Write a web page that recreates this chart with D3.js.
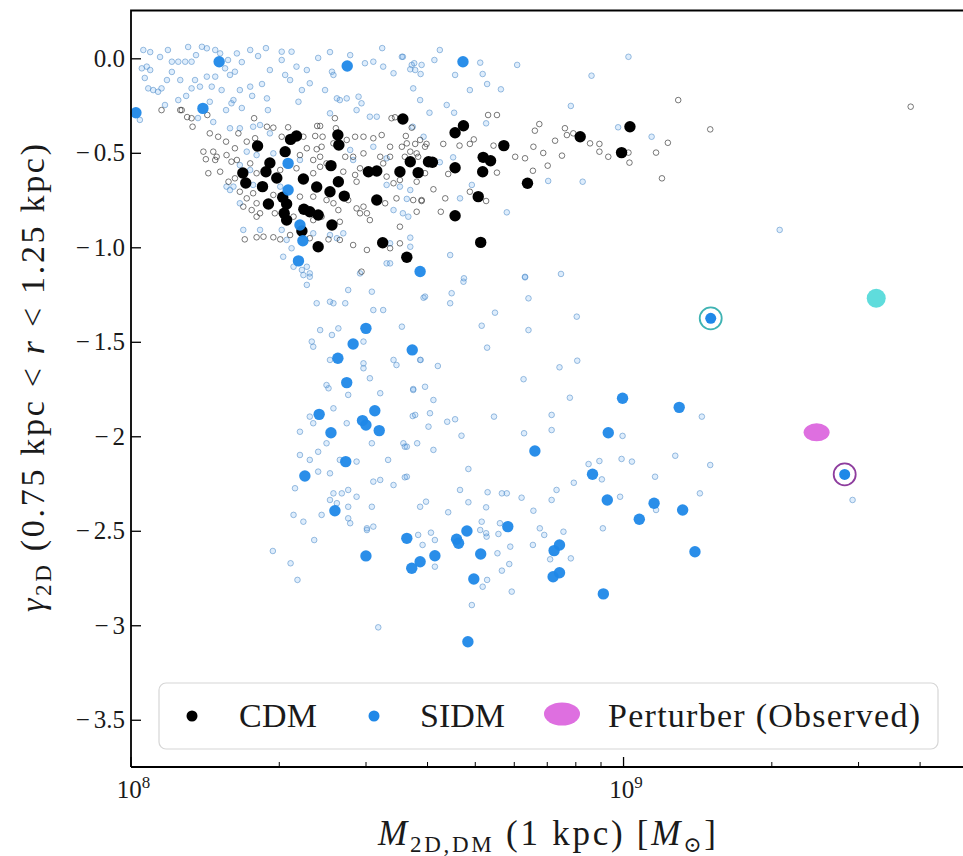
<!DOCTYPE html>
<html><head><meta charset="utf-8">
<script src="https://cdn.jsdelivr.net/npm/d3@7"></script>
<style>
body{margin:0;background:#fff}
svg{display:block}
text{font-family:"Liberation Serif","DejaVu Serif",serif;fill:#1a1a1a}
</style>
</head><body>
<svg id="chart" width="963" height="856"></svg>
<script>
// ---------- DATA: [log10 M_2D,DM (1 kpc) / Msun, gamma_2D] ----------
const cdmHighlighted = [[8.553,-0.321],[8.258,-0.464],[8.337,-0.411],[8.325,-0.429],[8.421,-0.406],[8.423,-0.459],[8.314,-0.494],[8.283,-0.554],[8.275,-0.600],[8.297,-0.633],[8.228,-0.607],[8.234,-0.660],[8.268,-0.679],[8.351,-0.639],[8.378,-0.681],[8.405,-0.706],[8.407,-0.568],[8.434,-0.729],[8.280,-0.771],[8.352,-0.799],[8.364,-0.812],[8.381,-0.829],[8.317,-0.856],[8.348,-0.914],[8.409,-0.882],[8.381,-0.997],[8.512,-0.976],[8.561,-1.053],[8.483,-0.600],[8.500,-0.596],[8.547,-0.600],[8.568,-0.547],[8.584,-0.605],[8.605,-0.547],[8.422,-0.653],[8.500,-0.750],[8.312,-0.820],[8.309,-0.735],[8.317,-0.771],[8.676,-0.357],[8.659,-0.394],[8.758,-0.462],[8.913,-0.415],[9.014,-0.362],[8.997,-0.499],[8.613,-0.550],[8.659,-0.579],[8.716,-0.524],[8.731,-0.542],[8.715,-0.600],[8.806,-0.661],[8.706,-0.732],[8.659,-0.833],[8.711,-0.974]];

const sidmHighlighted = [[8.180,-0.018],[8.011,-0.288],[8.147,-0.265],[8.440,-0.041],[8.675,-0.018],[8.320,-0.556],[8.320,-0.697],[8.344,-0.882],[8.350,-0.965],[8.341,-1.072],[8.588,-1.128],[8.478,-1.429],[8.452,-1.512],[8.421,-1.587],[8.439,-1.716],[8.572,-1.543],[8.383,-1.884],[8.496,-1.865],[8.471,-1.917],[8.478,-1.940],[8.505,-1.970],[8.407,-1.981],[8.437,-2.134],[8.354,-2.210],[8.415,-2.394],[8.561,-2.540],[8.999,-1.799],[9.114,-1.847],[8.970,-1.981],[8.821,-2.078],[8.938,-2.201],[8.968,-2.337],[9.063,-2.354],[9.121,-2.390],[9.033,-2.439],[8.766,-2.478],[8.683,-2.501],[8.662,-2.545],[8.571,-2.698],[8.588,-2.664],[8.618,-2.632],[8.666,-2.566],[8.711,-2.623],[8.697,-2.755],[8.860,-2.605],[8.871,-2.575],[8.858,-2.743],[8.871,-2.722],[8.960,-2.834],[9.146,-2.611],[8.685,-3.087],[8.478,-2.633]];

const cdmSample = [[8.124,-0.317],[8.126,-0.362],[8.156,-0.300],[8.104,-0.274],[8.251,-0.317],[8.277,-0.362],[8.290,-0.367],[8.320,-0.365],[8.379,-0.358],[8.385,-0.358],[8.415,-0.317],[8.417,-0.370],[8.530,-0.317],[8.537,-0.312],[8.571,-0.367],[8.351,-0.415],[8.375,-0.411],[8.390,-0.415],[8.161,-0.397],[8.178,-0.415],[8.194,-0.441],[8.219,-0.397],[8.236,-0.441],[8.253,-0.423],[8.212,-0.476],[8.307,-0.415],[8.358,-0.476],[8.378,-0.481],[8.388,-0.468],[8.412,-0.450],[8.439,-0.432],[8.456,-0.415],[8.473,-0.415],[8.493,-0.423],[8.510,-0.406],[8.527,-0.468],[8.561,-0.450],[8.588,-0.432],[8.598,-0.468],[8.148,-0.494],[8.168,-0.494],[8.175,-0.521],[8.195,-0.512],[8.205,-0.547],[8.216,-0.538],[8.243,-0.556],[8.153,-0.534],[8.172,-0.538],[8.344,-0.512],[8.371,-0.538],[8.385,-0.521],[8.398,-0.556],[8.436,-0.521],[8.452,-0.521],[8.473,-0.503],[8.507,-0.521],[8.527,-0.521],[8.513,-0.556],[8.557,-0.521],[8.581,-0.503],[8.158,-0.608],[8.182,-0.600],[8.199,-0.653],[8.212,-0.635],[8.256,-0.608],[8.304,-0.591],[8.337,-0.582],[8.371,-0.608],[8.385,-0.574],[8.432,-0.600],[8.456,-0.617],[8.459,-0.653],[8.466,-0.582],[8.520,-0.626],[8.534,-0.661],[8.547,-0.644],[8.581,-0.653],[8.598,-0.608],[8.222,-0.706],[8.236,-0.741],[8.249,-0.714],[8.256,-0.767],[8.290,-0.723],[8.344,-0.732],[8.371,-0.732],[8.398,-0.750],[8.412,-0.767],[8.442,-0.750],[8.459,-0.794],[8.473,-0.785],[8.517,-0.767],[8.540,-0.741],[8.574,-0.750],[8.591,-0.750],[8.229,-0.785],[8.246,-0.803],[8.263,-0.820],[8.256,-0.838],[8.293,-0.820],[8.331,-0.838],[8.371,-0.856],[8.388,-0.838],[8.422,-0.803],[8.425,-0.865],[8.466,-0.820],[8.480,-0.820],[8.486,-0.856],[8.547,-0.891],[8.232,-0.958],[8.256,-0.947],[8.270,-0.944],[8.290,-0.947],[8.304,-0.958],[8.324,-0.935],[8.364,-0.952],[8.402,-0.958],[8.425,-0.961],[8.452,-0.988],[8.480,-1.014],[8.527,-1.005],[8.547,-0.979],[8.469,-1.129],[8.063,-0.274],[8.101,-0.274],[8.115,-0.311],[8.559,-0.411],[8.578,-0.453],[8.601,-0.453],[8.635,-0.453],[8.668,-0.462],[8.689,-0.453],[8.697,-0.429],[8.744,-0.300],[8.726,-0.300],[8.737,-0.462],[8.781,-0.521],[8.801,-0.529],[8.818,-0.468],[8.821,-0.383],[8.830,-0.348],[8.817,-0.595],[8.847,-0.568],[8.876,-0.515],[8.862,-0.436],[8.882,-0.370],[8.886,-0.406],[8.899,-0.397],[8.933,-0.450],[8.952,-0.453],[8.952,-0.494],[8.970,-0.521],[9.013,-0.552],[9.011,-0.499],[9.067,-0.499],[9.091,-0.447],[9.079,-0.635],[8.744,-0.605],[8.645,-0.612],[8.615,-0.693],[8.591,-0.755],[8.639,-0.741],[8.689,-0.706],[8.722,-0.755],[8.581,-0.812],[8.630,-0.812],[8.551,-0.468],[8.568,-0.494],[8.584,-0.521],[8.838,-0.501],[9.112,-0.221],[9.177,-0.376],[9.584,-0.256]];

const sidmSample = [[8.026,0.044],[8.033,-0.044],[8.040,-0.062],[8.023,-0.053],[8.084,-0.018],[8.097,-0.018],[8.111,-0.018],[8.124,-0.018],[8.145,0.061],[8.155,0.053],[8.172,0.044],[8.182,0.026],[8.216,0.026],[8.243,0.044],[8.212,-0.071],[8.202,-0.088],[8.192,-0.053],[8.172,-0.097],[8.155,-0.097],[8.131,-0.115],[8.101,-0.115],[8.074,-0.115],[8.046,-0.168],[8.056,-0.177],[8.063,-0.159],[8.036,-0.159],[8.124,-0.159],[8.141,-0.150],[8.165,-0.150],[8.185,-0.168],[8.209,-0.221],[8.205,-0.238],[8.161,-0.230],[8.243,-0.150],[8.097,-0.221],[8.070,-0.247],[8.019,-0.326],[8.307,0.035],[8.307,-0.009],[8.327,0.035],[8.337,-0.044],[8.358,-0.062],[8.314,-0.088],[8.409,-0.071],[8.412,-0.088],[8.364,-0.132],[8.395,-0.168],[8.425,-0.221],[8.439,-0.212],[8.463,-0.203],[8.459,-0.274],[8.469,-0.238],[8.277,-0.212],[8.341,-0.230],[8.405,-0.291],[8.419,-0.212],[8.486,-0.309],[8.500,-0.309],[8.476,-0.026],[8.493,-0.018],[8.513,-0.044],[8.551,0.008],[8.571,-0.035],[8.578,-0.062],[8.534,-0.079],[8.591,-0.035],[8.574,-0.159],[8.588,-0.221],[8.595,-0.415],[8.249,-0.362],[8.263,-0.353],[8.202,-0.370],[8.222,-0.370],[8.283,-0.397],[8.236,-0.494],[8.256,-0.512],[8.290,-0.503],[8.344,-0.538],[8.446,-0.485],[8.452,-0.538],[8.493,-0.468],[8.520,-0.529],[8.222,-0.565],[8.243,-0.591],[8.209,-0.679],[8.195,-0.679],[8.520,-0.670],[8.547,-0.679],[8.568,-0.697],[8.534,-0.803],[8.564,-0.838],[8.304,-0.679],[8.307,-0.908],[8.317,-0.961],[8.327,-1.005],[8.371,-0.926],[8.405,-0.935],[8.419,-0.952],[8.432,-0.926],[8.527,-0.979],[8.520,-1.085],[8.568,-0.997],[8.358,-1.103],[8.364,-1.156],[8.310,-1.050],[8.331,-1.103],[8.348,-1.120],[8.263,-0.908],[8.229,-0.908],[8.222,-0.767],[8.249,-0.670],[8.202,-0.697],[8.553,0.008],[8.576,-0.026],[8.568,-0.058],[8.589,-0.083],[8.617,-0.009],[8.710,-0.023],[8.715,-0.083],[8.724,-0.136],[8.752,-0.164],[8.785,-0.035],[8.936,-0.092],[9.011,0.008],[8.894,-0.252],[8.722,-0.344],[8.642,-0.247],[8.657,-0.288],[8.607,-0.288],[8.573,-0.362],[8.655,-0.524],[8.628,-0.550],[8.848,-0.649],[8.918,-0.653],[9.058,-0.415],[8.990,-0.365],[8.764,-0.815],[8.568,-0.949],[8.649,-1.041],[8.801,-1.156],[8.874,-1.141],[8.677,-1.164],[8.693,-0.670],[8.669,-0.741],[8.561,-0.744],[8.553,-0.820],[9.318,-0.908],[8.351,-1.147],[8.358,-1.199],[8.364,-1.138],[8.466,-1.138],[8.378,-1.296],[8.405,-1.288],[8.412,-1.296],[8.436,-1.296],[8.442,-1.226],[8.490,-1.235],[8.493,-1.332],[8.513,-1.332],[8.598,-1.261],[8.527,-1.085],[8.385,-1.438],[8.422,-1.429],[8.409,-1.464],[8.368,-1.499],[8.371,-1.526],[8.473,-1.499],[8.551,-1.420],[8.405,-1.596],[8.473,-1.614],[8.473,-1.640],[8.486,-1.693],[8.534,-1.596],[8.540,-1.623],[8.588,-1.596],[8.398,-1.729],[8.402,-1.746],[8.442,-1.781],[8.507,-1.772],[8.574,-1.755],[8.598,-1.738],[8.412,-1.852],[8.364,-1.896],[8.371,-1.931],[8.439,-1.931],[8.344,-1.976],[8.398,-2.037],[8.490,-2.037],[8.554,-2.037],[8.561,-2.055],[8.578,-1.887],[8.605,-1.949],[8.344,-2.099],[8.364,-2.125],[8.381,-2.082],[8.425,-2.125],[8.459,-2.134],[8.523,-2.125],[8.493,-2.240],[8.507,-2.231],[8.534,-2.258],[8.561,-2.214],[8.381,-2.187],[8.405,-2.196],[8.334,-2.275],[8.412,-2.302],[8.429,-2.302],[8.442,-2.284],[8.459,-2.320],[8.405,-2.337],[8.419,-2.354],[8.442,-2.373],[8.490,-2.373],[8.331,-2.416],[8.351,-2.452],[8.388,-2.416],[8.442,-2.434],[8.446,-2.460],[8.480,-2.487],[8.588,-2.373],[8.584,-2.522],[8.676,-1.182],[8.801,-1.159],[8.652,-1.243],[8.649,-1.296],[8.595,-1.267],[8.808,-1.270],[8.906,-1.367],[8.740,-1.346],[8.713,-1.415],[8.808,-1.438],[8.724,-1.531],[8.589,-1.596],[8.624,-1.628],[8.871,-1.635],[8.907,-1.600],[8.798,-1.698],[8.574,-1.750],[8.615,-1.808],[8.892,-1.796],[8.573,-1.893],[8.608,-1.878],[8.643,-1.923],[8.659,-1.910],[8.738,-1.896],[8.855,-1.887],[8.672,-1.997],[8.799,-1.984],[8.855,-1.967],[8.999,-1.998],[9.160,-1.896],[8.557,-2.055],[8.582,-2.037],[8.615,-2.072],[8.930,-2.147],[8.952,-2.131],[8.997,-2.120],[9.018,-2.134],[9.106,-2.103],[9.177,-2.152],[8.557,-2.217],[8.686,-2.173],[8.957,-2.228],[9.065,-2.214],[8.669,-2.284],[8.725,-2.296],[8.754,-2.302],[8.764,-2.302],[8.794,-2.325],[8.855,-2.337],[8.865,-2.284],[8.900,-2.246],[8.994,-2.320],[9.156,-2.302],[8.600,-2.346],[8.686,-2.349],[8.722,-2.376],[8.645,-2.402],[8.818,-2.394],[9.067,-2.390],[8.713,-2.452],[8.750,-2.460],[8.610,-2.510],[8.722,-2.513],[8.831,-2.487],[8.840,-2.522],[8.879,-2.505],[8.959,-2.487],[9.466,-2.337],[8.593,-2.575],[8.618,-2.549],[8.618,-2.690],[8.710,-2.496],[8.723,-2.531],[8.747,-2.517],[8.771,-2.584],[8.745,-2.619],[8.769,-2.676],[8.754,-2.711],[8.715,-2.796],[8.724,-2.760],[8.774,-2.822],[8.693,-2.893],[8.817,-2.575],[8.852,-2.651],[8.894,-2.646],[8.289,-2.607],[8.325,-2.672],[8.339,-2.760],[8.373,-2.549],[8.480,-2.496],[8.493,-2.478],[8.503,-3.011],[8.040,0.033],[8.060,0.007],[8.076,0.044],[8.117,0.060],[8.133,0.017],[8.198,-0.009],[8.226,-0.020],[8.259,0.012],[8.275,0.054],[8.283,-0.062],[8.267,-0.136],[8.247,-0.199],[8.222,-0.168],[8.029,-0.104],[8.084,-0.072],[8.113,-0.199],[8.137,-0.316],[8.168,-0.337],[8.194,-0.274],[8.226,-0.263],[8.279,-0.274],[8.324,-0.115],[8.348,-0.168],[8.381,0.002],[8.405,0.033],[8.446,0.017],[8.511,0.054],[8.628,0.044],[8.659,-0.088],[8.689,-0.168]];

// SIDM haloes matched to observed perturbers (ringed), and observed perturbers
const matchedSidm = [[9.178,-1.376],[9.450,-2.202]];
const matchedRingColor = ["#3fb3b3","#8e3d9e"];
const otherObserved = [[9.514,-1.270]];
const perturberObserved = [[9.393,-1.979]];

const yTicks = [0,-0.5,-1,-1.5,-2,-2.5,-3,-3.5];
const yTickLabels = ["0.0","\u22120.5","\u22121.0","\u22121.5","\u22122","\u22122.5","\u22123","\u22123.5"];
const xMajorTicks = [1e8,1e9];
const xMajorExp = ["8","9"];
const xMinorTicks = [2e8,3e8,4e8,5e8,6e8,7e8,8e8,9e8,2e9,3e9,4e9];
const legendLabels = ["CDM","SIDM","Perturber (Observed)"];

// ---------- STYLE ----------
const BLUE = "#1f88e8", BLACK = "#000", PINK = "#de6fe0", CYAN = "#5fdcdc";
const L = 131, T = 10.5, R = 963, B = 767;

const svg = d3.select("#chart");
const x = d3.scaleLog().domain([1e8, 4.9e9]).range([130.5, R]);
const y = d3.scaleLinear().domain([0.253, -3.75]).range([T, B]);
const px = d => x(Math.pow(10, d[0]));
const py = d => y(d[1]);

const plot = svg.append("g");

// small markers
plot.append("g").selectAll("circle").data(sidmSample).join("circle")
  .attr("cx", px).attr("cy", py).attr("r", 2.8)
  .attr("fill", BLUE).attr("fill-opacity", 0.15)
  .attr("stroke", "#5a93cc").attr("stroke-opacity", 0.6).attr("stroke-width", 1);
plot.append("g").selectAll("circle").data(cdmSample).join("circle")
  .attr("cx", px).attr("cy", py).attr("r", 2.8)
  .attr("fill", "none").attr("stroke", "#222").attr("stroke-opacity", 0.6).attr("stroke-width", 1);

// highlighted markers
plot.append("g").selectAll("circle").data(cdmHighlighted).join("circle")
  .attr("cx", px).attr("cy", py).attr("r", 5.7).attr("fill", BLACK);
plot.append("g").selectAll("circle").data(sidmHighlighted).join("circle")
  .attr("cx", px).attr("cy", py).attr("r", 5.7).attr("fill", BLUE).attr("fill-opacity", 0.95);

// observed perturbers
plot.append("g").selectAll("circle").data(otherObserved).join("circle")
  .attr("cx", px).attr("cy", py).attr("r", 9.5).attr("fill", CYAN);
plot.append("g").selectAll("ellipse").data(perturberObserved).join("ellipse")
  .attr("cx", px).attr("cy", py).attr("rx", 13).attr("ry", 9).attr("fill", PINK);

// matched SIDM haloes with rings
const mg = plot.append("g").selectAll("g").data(matchedSidm).join("g");
mg.append("circle").attr("cx", px).attr("cy", py).attr("r", 11)
  .attr("fill", "#fff").attr("stroke", (d,i) => matchedRingColor[i]).attr("stroke-width", 1.8);
mg.append("circle").attr("cx", px).attr("cy", py).attr("r", 5.5).attr("fill", BLUE);

// ---------- AXES ----------
const yAxis = d3.axisLeft(y).tickValues(yTicks)
  .tickFormat((d,i) => yTickLabels[i]).tickSizeInner(-10).tickSizeOuter(0).tickPadding(6);
const gy = svg.append("g").attr("transform", `translate(${L},0)`).call(yAxis);
gy.select(".domain").remove();
gy.selectAll("line").attr("stroke", "#000").attr("stroke-width", 1.3);
gy.selectAll("text").attr("font-size", 25).attr("font-family", "Liberation Serif, serif").attr("fill", "#222")
  .each(function(d,i){
    const s = yTickLabels[i];
    const t = d3.select(this).text(null);
    if (s[0] === "\u2212") { t.append("tspan").text("\u2212"); t.append("tspan").attr("dx", 4).text(s.slice(1)); }
    else t.text(s);
  });

const xMajor = d3.axisBottom(x).tickValues(xMajorTicks).tickFormat("").tickSizeInner(-10).tickSizeOuter(0);
const gxM = svg.append("g").attr("transform", `translate(0,${B})`).call(xMajor);
gxM.select(".domain").remove();
gxM.selectAll("line").attr("stroke", "#000").attr("stroke-width", 1.3);
const xMinor = d3.axisBottom(x).tickValues(xMinorTicks).tickFormat("").tickSizeInner(-5).tickSizeOuter(0);
const gxm = svg.append("g").attr("transform", `translate(0,${B})`).call(xMinor);
gxm.select(".domain").remove();
gxm.selectAll("line").attr("stroke", "#000").attr("stroke-width", 1);

const xl = svg.append("g").selectAll("text").data(xMajorTicks).join("text")
  .attr("x", d => x(d) + 3).attr("y", 798).attr("text-anchor", "middle").attr("font-size", 25).attr("fill", "#222");
xl.append("tspan").text("10");
xl.append("tspan").attr("dy", -10).attr("font-size", 17).text((d,i) => xMajorExp[i]);

// spines
svg.append("path").attr("d", `M${L},${B}V${T}H${R+2}`).attr("fill", "none").attr("stroke", "#000").attr("stroke-width", 1.8);
svg.append("line").attr("x1", L).attr("x2", R+2).attr("y1", B).attr("y2", B).attr("stroke", "#000").attr("stroke-width", 1.8);

// axis labels
const yl = svg.append("text").attr("transform", "translate(44,378) rotate(-90)")
  .attr("text-anchor", "middle").attr("font-size", 34).attr("textLength", 468).attr("lengthAdjust", "spacing");
yl.append("tspan").attr("font-style", "italic").text("\u03b3");
yl.append("tspan").attr("font-size", 23).attr("dy", 7).text("2D");
yl.append("tspan").attr("dy", -7).text(" (0.75 kpc < ");
yl.append("tspan").attr("font-style", "italic").text("r");
yl.append("tspan").text(" < 1.25 kpc)");

const xlab = svg.append("text").attr("x", 547).attr("y", 845)
  .attr("text-anchor", "middle").attr("font-size", 35).attr("textLength", 338).attr("lengthAdjust", "spacing");
xlab.append("tspan").attr("font-style", "italic").text("M");
xlab.append("tspan").attr("font-size", 23).attr("dy", 7).text("2D,DM");
xlab.append("tspan").attr("dy", -7).text(" (1 kpc) [");
xlab.append("tspan").attr("font-style", "italic").text("M");
xlab.append("tspan").attr("font-size", 22).attr("dy", 7).attr("font-family", "DejaVu Serif, serif").text("\u2299");
xlab.append("tspan").attr("dy", -7).text("]");

// ---------- LEGEND ----------
const lg = svg.append("g");
lg.append("rect").attr("x", 159).attr("y", 683).attr("width", 779).attr("height", 66).attr("rx", 7)
  .attr("fill", "#fff").attr("fill-opacity", 0.85).attr("stroke", "#d6d6d6").attr("stroke-width", 1.2);
const legItems = [
  {mx:192, tx:239, w:78, kind:"dot", color:BLACK},
  {mx:374, tx:420, w:85, kind:"dot", color:BLUE},
  {mx:562, tx:608, w:312, kind:"ellipse", color:PINK}
];
legItems.forEach((it,i) => {
  if (it.kind === "dot") lg.append("circle").attr("cx", it.mx).attr("cy", 716).attr("r", 5.5).attr("fill", it.color);
  else lg.append("ellipse").attr("cx", it.mx).attr("cy", 714).attr("rx", 18).attr("ry", 11.5).attr("fill", it.color);
  lg.append("text").attr("x", it.tx).attr("y", 727).attr("font-size", 34).attr("fill", "#222")
    .attr("textLength", it.w).attr("lengthAdjust", "spacing").text(legendLabels[i]);
});
</script>
</body></html>
